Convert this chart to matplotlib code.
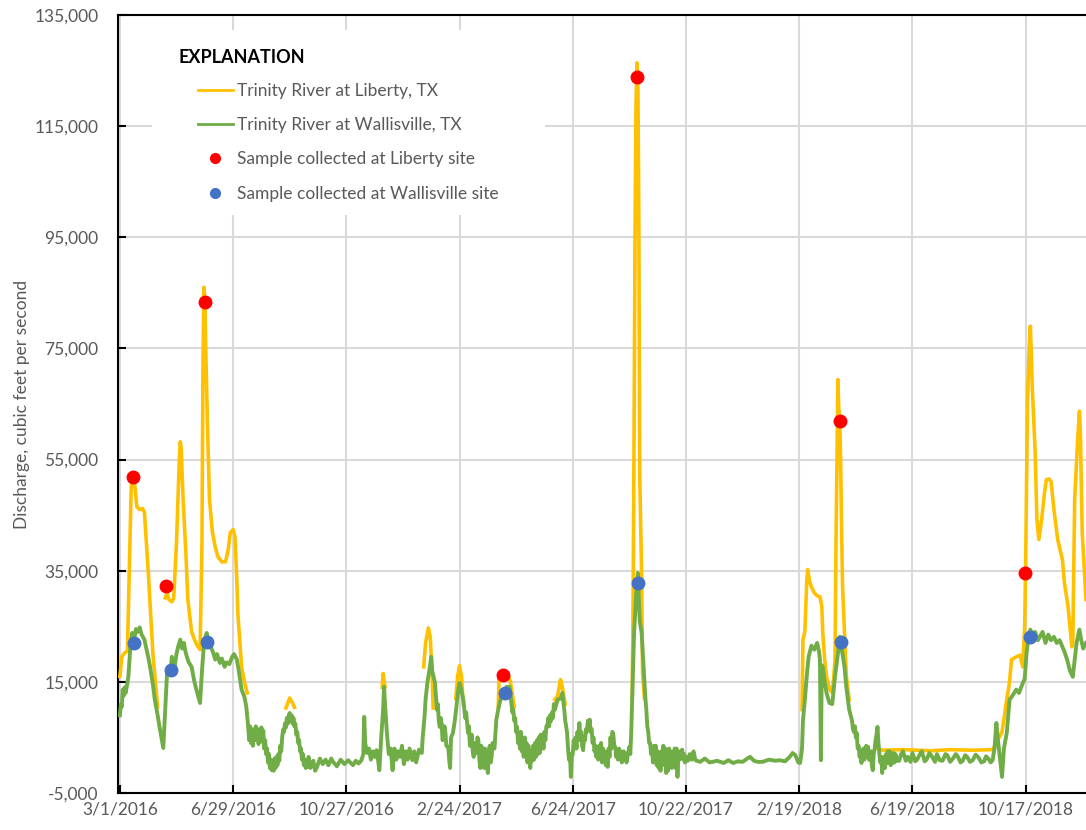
import datetime as dt
import matplotlib
matplotlib.use("Agg")
import matplotlib.pyplot as plt
from matplotlib.patches import Rectangle
from matplotlib.lines import Line2D
from matplotlib.ticker import FuncFormatter

nan = float("nan")
start = dt.date(2016, 3, 1)

# Trinity River at Liberty, TX (days since 3/1/2016, cfs); nan = no line
liberty_days = [0, 2, 5, 8, 10, 12, 14, 16, 18, 21, 24, 26, 30, 35, 40, 41,
                48, 50, 52, 55, 57, 60, 63, 64, 65, 67, 70, 72, 76, 79, 82, 85, 87, 88, 89, 90, 91, 93, 95,
                98, 101, 104, 108, 112, 115, 117, 120, 122, 124, 125, 129, 132, 135, 136,
                176, 180, 183, 185, 186,
                278, 279, 281, 282,
                322, 324, 327, 329, 331, 332, 333,
                356, 358, 360, 362, 364, 365,
                401, 402, 406, 410, 414, 418, 419,
                461, 464, 467, 469, 472, 473,
                543, 544, 545, 546, 547, 548, 549, 550, 551, 553, 554, 556, 557,
                723, 724, 726, 728, 729, 731, 733, 736, 739, 742, 744, 745, 747, 749, 752, 754, 756,
                758, 759, 760, 761, 762, 763, 764, 765, 766, 768, 770, 773, 774,
                803, 808, 830, 860, 880, 904, 925, 929, 935, 940, 943, 945, 950, 954, 957, 959, 960,
                961, 962, 964, 965, 966, 967, 970, 972, 974, 977, 980, 982, 985, 987, 990, 994, 999,
                1001, 1005, 1009, 1010, 1012, 1015, 1017, 1018, 1020, 1024]
liberty_q = [16000, 19500, 20200, 20500, 35000, 50000, 51800, 50000, 46500, 46000, 46200, 45500, 35000, 20000, 10500, nan,
             30100, 31000, 29800, 29400, 30000, 40000, 55000, 58200, 57000, 47800, 38000, 29800, 24000, 22600, 21500, 20800, 40000, 70000, 86000, 84000, 75000, 60000, 47800,
             42000, 39300, 37500, 36600, 36600, 39000, 41800, 42400, 41100, 33000, 27400, 17700, 15000, 13000, nan,
             10300, 12100, 11200, 10400, nan,
             14000, 16500, 14100, nan,
             17700, 22000, 24700, 23000, 16000, 10300, nan,
             12000, 16000, 17900, 16000, 11000, nan,
             10500, 16000, 16300, 16800, 15000, 10500, nan,
             11800, 12500, 15400, 14000, 11000, nan,
             11800, 30000, 60000, 95000, 118000, 126400, 124000, 100000, 52000, 34600, 16600, 12000, nan,
             10000, 22600, 24000, 33000, 35200, 33000, 32100, 31000, 30500, 30300, 28500, 23800, 19000, 15900, 13800, 13200, 14500,
             19000, 40000, 53700, 69400, 64000, 62200, 53700, 41800, 32000, 23800, 16000, 11800, nan,
             3000, 2700, 2800, 2600, 2800, 2700, 2800, 4000, 6000, 11800, 15000, 19000, 19500, 19800, 17700, 25000, 35700,
             50000, 65800, 76000, 79000, 74000, 68200, 56800, 44200, 40600, 44200, 49000, 51400, 51500, 51000, 46000, 40600, 37000,
             33000, 28500, 21300, 22000, 47800, 58000, 63700, 60000, 41800, 29800]

# Trinity River at Wallisville, TX (day, cfs)
wallis_points = [
    (0, 9000), (1, 11000), (2, 10500), (3, 13600), (4, 12500), (5, 14000), (6, 13000), (8, 14800), (9, 16000),
    (11, 21000), (13, 23800), (15, 22500), (17, 24500), (19, 24000), (21, 24800), (23, 23500), (26, 22600),
    (28, 21000), (30, 19500), (32, 17700), (35, 14500), (37, 11800), (40, 9000), (42, 6900), (44, 5000), (46, 3100),
    (48, 10000), (50, 16600), (52, 17500), (54, 17200), (55, 19500), (57, 18000), (58, 17700), (60, 20000),
    (62, 21500), (64, 22600), (66, 21000), (68, 22000), (69, 20800), (71, 19500), (73, 18500), (76, 17700),
    (79, 15000), (82, 13000), (85, 11200), (87, 17000), (89, 21500), (90, 22600), (92, 23800), (94, 22000),
    (96, 21500), (99, 20200), (101, 19000), (103, 20000), (106, 18400), (108, 19200), (111, 17700), (113, 18500),
    (116, 18200), (119, 19500), (121, 20000), (124, 19000), (126, 17000), (129, 13600), (132, 12300), (134, 10500),
    (136, 6900), (137, 4500), (138, 7000), (139, 4000), (140, 6500), (141, 3500), (142, 6000), (143, 4500),
    (144, 7000), (145, 5000), (146, 6500), (147, 3800), (148, 6000), (149, 4200), (150, 6800), (151, 5000),
    (152, 6200), (153, 3000), (154, 4500), (155, 2000), (156, 3000), (157, 500), (158, 2000), (159, -500),
    (160, 1000), (161, -900), (162, 500), (163, -1000), (164, 1200), (165, -500), (166, 1500), (167, 0),
    (168, 2000), (169, 800), (170, 3500), (171, 2500), (172, 5000), (173, 6400), (174, 6000), (175, 7500),
    (176, 6800), (177, 8500), (178, 7500), (179, 9000), (180, 9400), (181, 8000), (182, 9000), (183, 7500),
    (184, 8500), (185, 7000), (186, 7500), (187, 5500), (188, 6000), (189, 4000), (190, 4500), (191, 2500),
    (192, 3000), (193, 1000), (194, 2000), (195, 0), (196, 1000), (197, -500), (198, 800), (199, -300),
    (200, 1500), (202, -500), (205, 800), (207, -1000), (209, -300), (212, 1200), (215, 200), (218, 1000),
    (221, 0), (224, 1200), (226, 600), (230, -200), (234, 1000), (238, 200), (242, 900), (247, 0), (250, 800),
    (253, 300), (256, 900), (258, 2000), (259, 8700), (260, 4000), (262, 2200), (264, 3000), (266, 1000),
    (268, 2500), (270, 1500), (272, 2700), (274, 500), (275, -900), (277, 5000), (279, 10000), (280, 14100),
    (281, 11000), (283, 5800), (285, 2000), (287, 3000), (289, -900), (291, 3000), (293, 1000), (295, 2500),
    (297, 1500), (299, 3500), (301, 200), (303, 2500), (305, 1000), (307, 3000), (310, 900), (312, 2500),
    (314, 500), (317, 2800), (320, 2200), (321, 5000), (323, 9000), (324, 11800), (326, 15000), (328, 17000),
    (330, 19500), (331, 17000), (333, 15500), (334, 14800), (336, 10000), (337, 11000), (338, 8000), (339, 6900),
    (340, 8500), (341, 7500), (342, 4500), (343, 5000), (344, 7000), (345, 6000), (346, 3500), (348, 3300),
    (349, 1000), (350, -500), (351, 5000), (353, 5800), (355, 8000), (357, 11000), (359, 14000), (360, 14800),
    (362, 13500), (364, 11800), (366, 8500), (367, 9500), (369, 5800), (370, 7000), (371, 3500), (372, 5000),
    (373, 5500), (374, 2500), (375, 1500), (376, 4000), (378, 2200), (379, 5000), (380, 4500), (381, 1000),
    (382, -500), (383, 3500), (384, 3000), (385, 500), (386, -500), (387, 3000), (388, 2500), (389, 0),
    (390, -1400), (391, 2500), (392, 3500), (393, 500), (394, 1500), (395, 4000), (397, 3000), (399, 8200),
    (401, 10000), (403, 11500), (406, 13000), (408, 13500), (410, 14100), (413, 14100),
    (415, 11000), (416, 9500), (417, 10000), (418, 8000), (419, 8500), (420, 6000), (421, 6900), (422, 4000),
    (423, 5500), (424, 3000), (425, 6000), (426, 2500), (427, 4500), (428, 1500), (429, 5000), (430, 2000),
    (431, 4000), (432, 500), (433, 3500), (434, 1000), (435, -500), (436, 2500), (437, 800), (438, 3500),
    (439, 1000), (440, 4000), (441, 1500), (442, 4500), (443, 2000), (444, 5000), (445, 2200), (446, 5500),
    (447, 3000), (448, 5000), (449, 3000), (450, 6000), (451, 4500), (452, 7000), (453, 6900), (454, 8500),
    (455, 7000), (456, 9000), (457, 8000), (458, 9500), (459, 8500), (460, 11000), (461, 10000),
    (464, 11800), (467, 12000), (469, 13000), (471, 10000), (472, 8000), (473, 7000), (474, 5800), (475, 3000),
    (476, 1000), (477, 2000), (478, -2100), (479, 1500), (480, 2000), (481, 4500), (482, 3000), (483, 5000),
    (484, 3000), (485, 6000), (486, 4500), (487, 7600), (488, 5000), (489, 6000), (490, 3500), (491, 2700),
    (492, 5000), (493, 4500), (494, 6500), (495, 6000), (496, 8000), (497, 7000), (498, 8200), (499, 6000),
    (500, 6500), (501, 4000), (502, 5000), (503, 2500), (504, 3500), (505, 1500), (506, 3000), (507, 1000),
    (508, 3500), (509, 2000), (510, 4000), (511, 500), (512, 3000), (513, 1000), (514, 2500), (515, 0),
    (516, 2000), (517, -300), (518, 3000), (519, 1500), (520, 5000), (521, 3000), (522, 6000), (523, 5500),
    (524, 3500), (525, 3300), (526, 1500), (527, 2500), (528, 1000), (529, 3000), (530, 1500), (531, 2500),
    (532, 500), (533, 900), (534, 2500), (535, 1000), (536, 2000), (537, 500), (538, 1500), (539, 2500),
    (540, 3300), (541, 2000), (542, 6000), (543, 12000), (545, 23800), (547, 30000), (549, 34600), (550, 30000),
    (551, 26000), (553, 23800), (556, 14800), (557, 12000), (558, 10000), (559, 7000), (560, 6000), (561, 4000),
    (562, 4000), (563, 2000), (564, 3000), (565, 500), (566, 3500), (567, 1000), (568, 3500), (569, 0),
    (570, 2500), (571, -500), (572, 2200), (573, -1000), (574, 2500), (575, 0), (576, 3500), (577, 500),
    (578, 3000), (579, -1400), (580, 1500), (581, -1000), (582, 3000), (583, 0), (584, 2500), (585, -500),
    (586, 2200), (587, 0), (588, 3000), (589, -500), (590, 3000), (591, -2100), (592, 2000), (593, 1000),
    (594, 2500), (595, 1500), (596, 2800), (597, 1000), (598, 2000), (599, 500), (600, 1500), (602, 800),
    (604, 2000), (606, 1000), (608, 2500), (610, 900), (615, 600), (620, 1200), (625, 500), (628, 600),
    (633, 800), (640, 400), (645, 900), (650, 400), (655, 700), (660, 600), (665, 1200), (668, 1500),
    (672, 800), (676, 600), (681, 600), (688, 1000), (695, 800), (699, 900), (705, 700), (710, 1500),
    (713, 2200), (716, 1800), (719, 500), (721, 400), (723, 3000), (724, 8000), (726, 11800), (728, 16000),
    (730, 19500), (731, 20200), (733, 21500), (736, 20800), (739, 22000), (741, 20500), (742, 19000),
    (743, 900), (744, 18000), (745, 17700), (747, 15000), (749, 13000), (752, 11200), (755, 11000),
    (758, 16000), (761, 20000), (763, 23100), (765, 21000), (768, 17700), (770, 14000), (773, 10000),
    (776, 8000), (777, 6500), (778, 6000), (779, 7000), (780, 5000), (781, 5800), (782, 3000), (783, 3500),
    (784, 1500), (785, 2500), (786, 400), (787, 2500), (788, 3000), (789, 1000), (790, 1500), (791, 3500),
    (792, 2000), (793, 3300), (794, 1000), (795, 1000), (796, 2500), (797, 0), (798, -900), (799, 2000),
    (800, 3000), (801, 4500), (802, 5500), (803, 6900), (804, 4000), (805, 2000), (806, 500), (807, 1500),
    (808, -1400), (809, 1000), (810, 1500), (811, -500), (812, 2000), (813, 400), (814, 2500), (815, 500),
    (816, 2500), (817, 0), (818, 2000), (819, 400), (820, 2200), (821, 500), (822, 2000), (824, 800),
    (826, 800), (828, 2000), (830, 2500), (833, 800), (835, 1500), (838, 600), (840, 2200), (843, 700),
    (845, 1000), (848, 2000), (850, 2500), (853, 700), (855, 1000), (858, 2200), (861, 1500), (864, 600),
    (866, 2000), (869, 900), (872, 800), (875, 2000), (877, 1800), (880, 600), (883, 1200), (886, 2000),
    (888, 1600), (891, 500), (893, 700), (896, 1800), (898, 1500), (901, 600), (904, 900), (907, 1900),
    (910, 1400), (913, 500), (916, 700), (918, 1600), (920, 1300), (923, 500), (925, 900), (927, 3000),
    (929, 7600), (931, 4000), (933, 1000), (935, -2100), (937, 3000), (940, 5800), (943, 11800), (946, 12500),
    (950, 13600), (953, 13000), (957, 14800), (959, 15500), (961, 20200), (963, 23000), (965, 24400),
    (967, 23500), (970, 24000), (973, 22500), (975, 23100), (978, 24000), (981, 22000), (984, 23500),
    (987, 22500), (990, 23100), (993, 22000), (996, 22500), (999, 21300), (1001, 20500), (1004, 19000),
    (1007, 17000), (1010, 15900), (1012, 19000), (1014, 22000), (1017, 24400), (1019, 22500), (1021, 21000),
    (1024, 22000),
]
wallis_days = [d for d, q in wallis_points]
wallis_q = [q for d, q in wallis_points]

# discrete samples
liberty_sample_days = [14, 49, 90, 406, 548, 763, 959]
liberty_sample_q = [51800, 32300, 83300, 16300, 123800, 62000, 34600]
wallis_sample_days = [15, 54, 92, 408, 549, 764, 965]
wallis_sample_q = [22000, 17200, 22200, 13000, 32800, 22200, 23100]

x_ticks = list(range(0, 1024, 120))
y_ticks = list(range(-5000, 135001, 20000))

yellow = "#ffc000"
green = "#70ad47"
grey_txt = "#595959"

plt.rcParams["font.family"] = ["Lato", "DejaVu Sans"]

fig = plt.figure(figsize=(10.86, 8.30), dpi=100)
ax = fig.add_axes([118 / 1086, 37 / 830, 968 / 1086, 778 / 830])

ax.plot(liberty_days, liberty_q, color=yellow, lw=2.6, zorder=3)
ax.plot(wallis_days, wallis_q, color=green, lw=2.8, zorder=4)
ax.plot(liberty_sample_days, liberty_sample_q, "o", color="#ff0000", ms=9, zorder=5)
ax.plot(wallis_sample_days, wallis_sample_q, "o", color="#4472c4", ms=9, zorder=5)

ax.set_xlim(-2, 1024)
ax.set_ylim(-5000, 135000)
ax.set_xticks(x_ticks)
ax.set_xticklabels([(start + dt.timedelta(days=d)).strftime("%-m/%-d/%Y") for d in x_ticks])
ax.set_yticks(y_ticks)
ax.yaxis.set_major_formatter(FuncFormatter(lambda v, p: f"{int(v):,}"))

ax.set_axisbelow(True)
ax.grid(True, color="#d9d9d9", lw=1.5)
for s in ["left", "bottom", "top"]:
    ax.spines[s].set_color("black")
    ax.spines[s].set_linewidth(1.5)
ax.spines["right"].set_visible(False)
ax.tick_params(axis="both", direction="in", length=6, width=1.5, colors="black",
               labelcolor=grey_txt, labelsize=12.5)
ax.tick_params(axis="y", pad=14)
ax.tick_params(axis="x", pad=6)

ax.set_ylabel("Discharge, cubic feet per second", fontsize=12.5, color=grey_txt)
ax.yaxis.set_label_coords(-0.091, 0.5)

# explanation box
ax.add_patch(Rectangle((0.035, 0.743), 0.406, 0.238, transform=ax.transAxes,
                       facecolor="white", edgecolor="none", zorder=2))
ax.text(0.062, 0.945, "EXPLANATION", transform=ax.transAxes, fontsize=13,
        fontweight="bold", color="black", va="center", ha="left", zorder=6)
handles = [
    Line2D([], [], color=yellow, lw=2),
    Line2D([], [], color=green, lw=2),
    Line2D([], [], ls="none", marker="o", color="#ff0000", ms=7),
    Line2D([], [], ls="none", marker="o", color="#4472c4", ms=7),
]
labels = ["Trinity River at Liberty, TX", "Trinity River at Wallisville, TX",
          "Sample collected at Liberty site", "Sample collected at Wallisville site"]
leg = ax.legend(handles, labels, loc="upper left", bbox_to_anchor=(0.0826, 0.913),
                frameon=False, borderpad=0, borderaxespad=0, handlelength=2.0,
                handletextpad=0.25, labelspacing=1.06, fontsize=12.5, labelcolor=grey_txt)
leg.set_zorder(6)

fig.savefig("out.png", dpi=100)
